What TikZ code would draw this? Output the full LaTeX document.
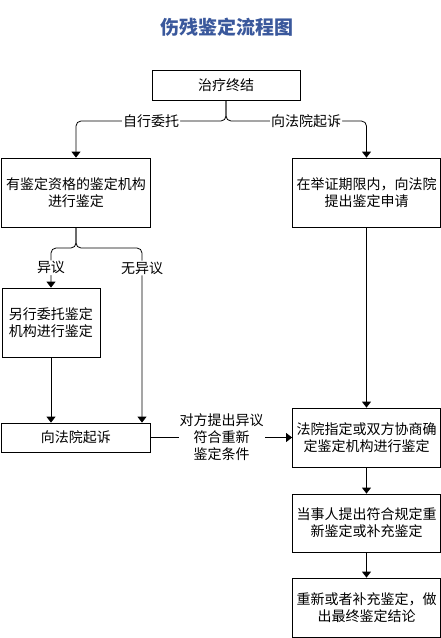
\documentclass[tikz,border=0pt]{standalone}
\usepackage{fontspec}
\newfontfamily\cjk{Noto Sans CJK SC}
\usetikzlibrary{arrows.meta}
\definecolor{titleblue}{RGB}{58,88,156}
\tikzset{
	box/.style={draw, line width=0.8pt, align=center, inner sep=0pt, font=\cjk\fontsize{14}{17}\selectfont},
	arr/.style={-{Triangle[width=9pt,length=6pt]}, line width=0.8pt},
	lbl/.style={fill=white, inner sep=1pt, align=center, font=\cjk\fontsize{14}{17}\selectfont}
}
\begin{document}
\begin{tikzpicture}[x=1pt,y=-1pt]
	\useasboundingbox (0,0) rectangle (441,638);
	\node[font=\cjk\bfseries\fontsize{19}{22}\selectfont, text=titleblue] (title) at (227,27) {伤残鉴定流程图};
	\node[box, minimum width=148pt, minimum height=30pt] (end) at (226,85) {治疗终结};
	\node[box, minimum width=149pt, minimum height=69pt] (self) at (76,192.5) {有鉴定资格的鉴定机构\\进行鉴定};
	\node[box, minimum width=148pt, minimum height=69pt] (apply) at (366.5,192.5) {在举证期限内，向法院\\提出鉴定申请};
	\node[box, minimum width=98pt, minimum height=69pt] (other) at (51,322.5) {另行委托鉴定\\机构进行鉴定};
	\node[box, minimum width=149pt, minimum height=29pt] (sue) at (76,437.5) {向法院起诉};
	\node[box, minimum width=148pt, minimum height=59pt] (appoint) at (366.5,437.5) {法院指定或双方协商确\\定鉴定机构进行鉴定};
	\node[box, minimum width=148pt, minimum height=58pt] (party) at (366.5,523) {当事人提出符合规定重\\新鉴定或补充鉴定};
	\node[box, minimum width=148pt, minimum height=59pt] (final) at (366.5,607.5) {重新或者补充鉴定，做\\出最终鉴定结论};
	\coordinate (split1) at (226,121);
	\coordinate (split2) at (76,248);
	\draw[arr, rounded corners=5pt] (end.south) -- (split1) -| node[lbl, pos=0.25] {自行委托} (self.north);
	\draw[arr, rounded corners=5pt] (end.south) -- (split1) -| node[lbl, pos=0.285] {向法院起诉} (apply.north);
	\draw[arr, rounded corners=5pt] (self.south) -- (split2) -| node[lbl, pos=0.75] {异议} (other.north);
	\draw[arr, rounded corners=5pt] (self.south) -- (split2) -| node[lbl, pos=0.557] {无异议} (sue.north -| 142,0);
	\draw[arr] (other.south) -- (sue.north -| other.south);
	\draw[arr] (apply.south) -- (appoint.north);
	\draw[arr] (sue.east) -- node[lbl] {对方提出异议\\符合重新\\鉴定条件} (appoint.west);
	\draw[arr] (appoint.south) -- (party.north);
	\draw[arr] (party.south) -- (final.north);
\end{tikzpicture}
\end{document}
